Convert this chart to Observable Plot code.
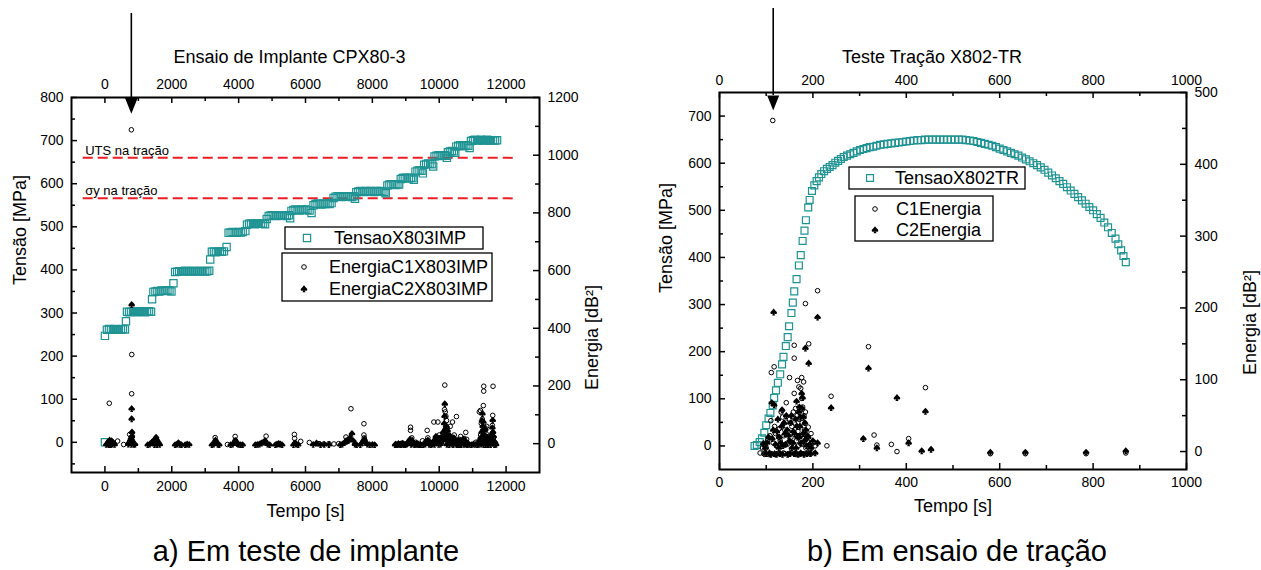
<!DOCTYPE html>
<html><head><meta charset="utf-8">
<script src="https://cdn.jsdelivr.net/npm/d3@7"></script>
<script src="https://cdn.jsdelivr.net/npm/@observablehq/plot@0.6"></script>
<style>
body{margin:0;background:#fff;font-family:"Liberation Sans",Arial,sans-serif;}
#wrap{position:relative;width:1261px;height:570px;overflow:hidden;background:#fff;}
.panel{position:absolute;top:0;}
.cap{position:absolute;font-size:29px;transform:translateX(-50%);white-space:nowrap;line-height:1;color:#000;}
</style></head><body><div id="wrap"></div>
<script>
// ---------------- DATA ----------------
// Panel a: Ensaio de Implante CPX80-3  (t [s], Tensão [MPa])
const titleA = "Ensaio de Implante CPX80-3";
const captionA = "a) Em teste de implante";
const namesA = ["TensaoX803IMP", "EnergiaC1X803IMP", "EnergiaC2X803IMP"];
const tensaoA = [
[0,0],[0,247],
[60,261],[120,263],[180,262],[240,261],[300,263],[360,262],[420,261],[480,262],[540,263],[600,262],[630,281],
[660,303],[720,302],[780,303],[840,304],[900,303],[960,302],[1020,303],[1080,304],[1140,303],[1200,302],[1260,303],[1320,304],[1380,303],[1410,332],
[1450,349],[1510,350],[1570,351],[1630,350],[1690,352],[1750,351],[1810,352],[1870,353],[1930,352],[1990,350],[2050,369],
[2100,395],[2160,396],[2220,397],[2280,396],[2340,397],[2400,398],[2460,397],[2520,396],[2580,397],[2640,398],[2700,397],[2760,396],[2820,397],[2880,398],[2940,397],[3000,396],[3060,397],[3120,398],[3150,424],
[3200,442],[3260,443],[3320,441],[3380,442],[3440,443],[3500,442],[3560,443],[3640,453],
[3700,486],[3760,487],[3820,488],[3880,487],[3940,486],[4000,488],[4060,487],[4120,488],[4200,490],
[4250,505],[4310,507],[4370,508],[4430,507],[4490,506],[4550,508],[4610,507],[4670,508],[4730,507],[4790,506],[4840,518],
[4900,525],[4960,526],[5020,527],[5080,526],[5140,525],[5200,527],[5260,526],[5320,527],[5380,526],[5440,525],[5500,527],[5540,520],
[5580,537],[5640,539],[5700,540],[5760,539],[5820,538],[5880,540],[5940,539],[6000,540],[6060,539],[6120,538],[6180,532],
[6240,550],[6300,553],[6360,554],[6420,553],[6480,552],[6540,554],[6600,553],[6660,554],[6720,553],[6780,555],
[6840,567],[6900,570],[6960,571],[7020,570],[7080,569],[7140,571],[7200,570],[7260,571],[7320,570],[7380,569],[7440,571],[7480,565],
[7520,580],[7580,582],[7640,583],[7700,582],[7760,581],[7820,583],[7880,582],[7940,583],[8000,582],[8060,581],[8120,583],[8180,582],[8240,583],[8300,582],[8360,581],[8400,578],
[8450,596],[8510,598],[8570,599],[8630,598],[8690,597],[8750,599],[8800,598],
[8850,611],[8910,613],[8970,614],[9030,613],[9090,612],[9150,614],[9200,613],[9240,609],
[9290,628],[9350,630],[9410,631],[9470,630],[9510,624],
[9550,644],[9610,646],[9670,647],[9730,646],[9790,645],[9820,640],
[9860,663],[9920,665],[9980,666],[10040,665],[10100,664],[10160,666],[10200,665],[10230,660],
[10260,673],[10320,675],[10380,676],[10440,675],[10480,672],
[10510,686],[10570,688],[10630,689],[10690,688],[10750,687],[10810,689],[10870,688],[10910,683],
[10950,699],[11010,701],[11070,702],[11130,701],[11190,700],[11250,702],[11310,701],[11370,700],[11430,702],[11490,701],[11550,700],[11610,701],[11670,700],[11730,701]
];
// Energy C1 (t [s], Energia [dB²])
const c1A = [
[130,140],[130,2],[200,2],[380,9],[560,-3],[740,32],[760,6],[790,1088],[800,173],[802,309],[820,10],[820,25],
[3298,21],[3300,8],[3320,3],[3665,-3],[3895,25],[3900,12],[3920,5],[4780,5],[4821,26],[5667,32],[5675,18],[5857,8],
[6115,4],[6404,0],[6550,-1],[6700,0],[6850,-1],[6992,0],[7210,23],[7230,12],[7270,8],[7360,121],[7748,69],
[7748,30],[7760,20],[7780,8],[8900,2],[9142,57],[9142,46],[9160,15],[9180,20],[9200,5],[9300,5],[9500,10],[9640,46],[9660,20],
[9700,5],[9840,75],[9900,10],[9960,75],[10000,30],[10050,20],[10100,12],[10130,35],[10167,203],[10160,118],[10180,110],[10200,95],
[10210,45],[10220,80],[10240,55],[10260,35],[10290,10],[10330,60],[10397,75],[10420,5],[10450,30],[10516,94],[10560,8],[10600,15],
[10640,25],[10700,8],[10740,18],[10794,39],[10820,15],[11100,5],[11200,110],[11233,115],[11240,30],[11260,70],[11290,85],[11300,45],
[11320,132],[11332,199],[11332,182],[11350,20],[11370,55],[11400,35],[11420,60],[11450,15],[11480,25],[11500,10],
[11560,15],[11580,35],[11590,63],[11600,98],[11610,199],[11620,20],[11640,5]
];
// Energy C2 (t [s], Energia [dB²])
const c2A = [
[40,-3],[80,2],[110,8],[120,-4],[140,12],[160,6],[170,-4],[190,0],[200,10],[220,-2],[250,3],[290,-3],
[700,-2],[730,5],[760,12],[780,18],[790,-3],[800,25],[800,86],[800,121],[800,482],[810,40],[820,8],[840,2],[870,-3],[900,-2],
[1280,-4],[1340,-2],[1400,4],[1450,10],[1480,-4],[1500,15],[1530,22],[1560,12],[1560,-4],[1600,4],[1640,-3],
[2100,-4],[2160,-2],[2200,3],[2240,-3],[2290,-4],[2400,-4],[2460,-2],[2520,-3],
[3200,-4],[3250,-2],[3280,4],[3310,12],[3340,3],[3380,-3],[3420,-4],
[3760,-4],[3820,-2],[3870,3],[3900,10],[3930,6],[3960,0],[4000,-3],[4060,-4],[4120,-4],
[4500,-4],[4560,-3],[4620,-2],[4680,2],[4740,5],[4790,10],[4820,4],[4870,-2],[4930,-4],
[5100,-4],[5150,-2],[5200,0],[5250,-2],[5300,-4],
[5640,-4],[5690,3],[5720,-2],[5780,-4],
[6230,-3],[6330,2],[6450,-4],[6560,-3],[6700,-4],
[7040,-4],[7100,-2],[7160,3],[7220,8],[7280,12],[7330,20],[7390,35],[7430,10],[7480,-2],[7530,-4],
[7640,-4],[7700,3],[7730,10],[7760,15],[7800,5],[7850,-2],[7920,-4],[8000,-3],[8070,-4],
[8680,-4],[8700,-2],[8740,-4],[8780,0],[8800,-3],[8840,-2],[8860,-4],[8900,0],[8920,-2],[8960,-4],[8980,-3],[9020,-2],[9040,0],
[9060,4],[9100,4],[9120,14],[9140,10],[9160,-3],[9180,6],[9200,8],[9220,2],[9260,-4],[9280,-2],[9320,0],[9340,-3],[9380,-2],[9400,-4],[9450,-4],
[9520,-4],[9580,-2],[9600,8],[9640,5],[9660,12],[9700,-3],[9720,4],[9760,-4],[9780,-1],[9800,2],[9840,10],[9860,-3],[9880,15],
[9900,25],[9920,6],[9940,12],[9960,20],[9980,-3],[10000,8],[10020,18],[10040,-2],[10060,5],
[10080,25],[10100,12],[10120,40],[10140,22],[10150,70],[10160,95],[10167,138],[10180,50],[10190,18],[10200,30],[10210,60],[10220,12],
[10230,-3],[10250,45],[10270,10],[10280,28],[10300,-4],[10320,8],[10340,25],[10360,15],[10380,5],
[10400,-2],[10420,-4],[10440,20],[10460,12],[10480,5],[10500,8],[10520,-3],[10540,-4],[10560,2],[10580,12],[10600,-4],[10620,-2],
[10640,5],[10660,-4],[10680,10],[10700,4],[10720,15],[10740,-3],[10760,6],[10780,10],[10800,-2],[10820,3],
[10840,-4],[10900,-3],[10960,-4],[11020,-2],[11080,-3],[11140,-4],[11180,-3],[11200,10],[11220,5],[11240,20],[11260,-2],[11270,40],
[11280,80],[11292,104],[11300,60],[11310,20],[11320,75],[11330,-4],[11340,30],[11350,45],[11360,15],[11370,8],[11380,50],[11390,-4],
[11400,25],[11410,12],[11420,5],[11440,6],[11450,-3],[11470,-4],[11480,10],[11500,3],[11520,20],[11540,-4],[11560,30],[11580,8],
[11590,55],[11600,81],[11610,40],[11620,10],[11630,25],[11650,-4],[11670,5],[11700,-3]
];
const refLinesA = [{label: "UTS na tração", v: 660}, {label: "σy na tração", v: 566}];
const refSpanA = [-650, 12300];
const arrowA = [790];
const xTicksA = [0, 2000, 4000, 6000, 8000, 10000, 12000];
const xMinorA = [1000, 3000, 5000, 7000, 9000, 11000];
const yTicksA = [0, 100, 200, 300, 400, 500, 600, 700, 800];
const yMinorA = [-50, 50, 150, 250, 350, 450, 550, 650, 750];
const rTicksA = [0, 200, 400, 600, 800, 1000, 1200];
const rMinorA = [100, 300, 500, 700, 900, 1100];

// Panel b: Teste Tração X802-TR
const titleB = "Teste Tração X802-TR";
const captionB = "b) Em ensaio de tração";
const namesB = ["TensaoX802TR", "C1Energia", "C2Energia"];
const tensaoB = [
[75,0],[80,2],[86,8],[91,16],[96,28],[100,44],[105,58],[109,70],[114,86],[117,102],[121,118],[125,134],[130,152],
[134,173],[137,189],[142,212],[146,231],[149,254],[154,282],[157,304],[160,328],[165,354],[170,383],[174,405],
[178,435],[182,457],[185,479],[190,506],[193,522],[198,541],[203,553],[208,562],[213,570],[218,577],[224,583],
[230,588],[236,592],[242,596],[248,601],[254,605],[260,609],[266,613],[273,616],[280,619],[287,622],[294,625],
[301,628],[308,630],[315,632],[322,634],[329,635],[336,637],[344,639],[352,640],[360,641],[368,642],[376,643],
[384,644],[392,645],[400,646],[408,647],[416,648],[424,649],[432,649],[440,650],[448,650],[456,650],[464,650],
[472,650],[480,650],[488,650],[496,650],[504,650],[512,650],[520,650],[528,649],[536,648],[544,647],[552,645],
[560,643],[568,641],[576,639],[584,637],[592,634],[600,631],[608,628],[616,625],[624,622],[632,619],[640,616],
[648,612],[656,608],[664,604],[672,600],[680,596],[688,591],[696,586],[704,580],[712,574],[720,568],[728,562],
[736,556],[744,549],[752,542],[760,535],[768,528],[776,521],[784,514],[792,507],[800,500],[808,492],[816,484],
[824,474],[832,464],[840,452],[848,440],[854,428],[860,415],[865,403],[870,390]
];
const c1B = [
[114,461],[210,224],[184,206],[160,148],[191,150],[117,118],[111,110],[160,130],[150,103],[176,103],[180,97],
[167,99],[319,146],[239,77],[441,89],[331,23],[337,9],[368,10],[380,0],[405,18],[230,8],[143,68],[160,81],
[176,74],[184,55],[190,34],[194,4],[110,43],[128,32],[142,41],[153,20],[87,-2],[95,-3],[100,5],[105,-4],
[115,12],[120,25],[125,-3],[130,15],[135,48],[138,22],[145,10],[148,-4],[155,35],[158,55],[163,60],[165,15],
[168,28],[170,45],[172,-4],[175,10],[178,62],[182,30],[186,18],[188,-2],[196,25],[200,12],[118,-4],[140,-3],
[162,-4],[580,-3],[655,-3],[785,-3],[870,-2],
[92,5],[97,-4],[103,15],[108,22],[112,-3],[118,35],[122,8],[127,20],[132,55],[137,-2],[140,30],[147,28],
[150,45],[152,-2],[156,12],[160,40],[164,-3],[166,50],[169,8],[173,22],[177,40],[179,-3],[181,50],[185,5],
[189,14],[192,-3],[198,-2],[205,8],[170,90],[174,88]
];
const c2B = [
[116,194],[210,187],[184,144],[191,123],[319,116],[134,58],[112,68],[117,65],[239,61],[380,75],[441,56],
[308,18],[337,5],[405,12],[433,1],[453,3],[580,-1],[655,-1],[785,-1],[870,1],[176,81],[171,62],[210,12],
[196,5],[94,11],[100,-3],[105,20],[110,-4],[115,30],[120,10],[122,-4],[125,45],[128,20],[130,-3],[133,35],
[136,8],[140,25],[143,50],[146,-4],[150,15],[152,40],[155,5],[158,28],[160,-3],[163,45],[165,70],[167,20],
[170,55],[172,35],[174,-2],[178,75],[180,48],[182,15],[185,30],[187,-3],[190,20],[193,10],[200,15],
[98,5],[102,12],[107,-2],[113,18],[118,-3],[123,28],[127,5],[131,12],[135,-4],[138,40],[141,10],[145,30],
[148,22],[151,-3],[154,50],[157,12],[161,25],[164,5],[166,35],[168,-4],[171,20],[173,48],[175,12],[177,60],
[179,25],[181,-4],[183,40],[186,8],[188,22],[195,-3],[205,-2]
];
const arrowB = [115];
const xTicksB = [0, 200, 400, 600, 800, 1000];
const xMinorB = [100, 300, 500, 700, 900];
const yTicksB = [0, 100, 200, 300, 400, 500, 600, 700];
const yMinorB = [50, 150, 250, 350, 450, 550, 650];
const rTicksB = [0, 100, 200, 300, 400, 500];
const rMinorB = [50, 150, 250, 350, 450];

// ---------------- STYLE / HELPERS ----------------
const FONT = "Liberation Sans, Arial, Helvetica, sans-serif";
const TEAL = "#1f9393";
const RED = "#ee1c25";

const spadePts = [[0,-1.1],[0.5,-0.55],[0.95,-0.05],[1.0,0.3],[0.8,0.55],[0.45,0.55],[0.2,0.35],[0.45,1.0],
  [-0.45,1.0],[-0.2,0.35],[-0.45,0.55],[-0.8,0.55],[-1.0,0.3],[-0.95,-0.05],[-0.5,-0.55]];
const spade = {draw(ctx, size) {
  const r = Math.sqrt(size / Math.PI);
  spadePts.forEach(([px, py], i) => i ? ctx.lineTo(px * r, py * r) : ctx.moveTo(px * r, py * r));
  ctx.closePath();
}};
const arrowHead = {draw(ctx, size) {
  const r = Math.sqrt(size / Math.PI);
  ctx.moveTo(-0.8 * r, -r);
  ctx.lineTo(0.8 * r, -r);
  ctx.lineTo(0, r);
  ctx.closePath();
}};

function legendMark(boxes) {
  return function () {
    const g = d3.create("svg:g").attr("font-family", FONT).attr("font-size", 18).attr("text-anchor", "start");
    for (const b of boxes) {
      g.append("rect").attr("x", b.x).attr("y", b.y).attr("width", b.w).attr("height", b.h)
        .attr("fill", "white").attr("stroke", "black").attr("stroke-width", 1.3);
      for (const it of b.items) {
        g.append("path").attr("transform", `translate(${it.sx},${it.sy})`)
          .attr("d", d3.symbol(it.symbol, Math.PI * it.r * it.r)())
          .attr("fill", it.fill).attr("stroke", it.stroke).attr("stroke-width", it.sw || 1);
        g.append("text").attr("x", it.tx).attr("y", it.sy).attr("dy", "0.35em")
          .attr("text-anchor", "start").attr("fill", "black").text(it.label);
      }
    }
    return g.node();
  };
}

function panel(cfg) {
  const plotW = cfg.width - cfg.marginLeft - cfg.marginRight;
  const plotH = cfg.height - cfg.marginTop - cfg.marginBottom;
  const [l0, l1] = cfg.yDomain, [r0, r1] = cfg.rDomain;
  const toL = (e) => l0 + (e - r0) * (l1 - l0) / (r1 - r0);
  const fromL = (v) => r0 + (v - l0) * (r1 - r0) / (l1 - l0);
  const major = 6, minor = 4, tsw = 1.5;
  return Plot.plot({
    width: cfg.width, height: cfg.height,
    marginLeft: cfg.marginLeft, marginRight: cfg.marginRight,
    marginTop: cfg.marginTop, marginBottom: cfg.marginBottom,
    style: {fontFamily: FONT, fontSize: "14px", color: "black", background: "transparent", overflow: "visible"},
    x: {domain: cfg.xDomain},
    y: {domain: cfg.yDomain},
    marks: [
      ...(cfg.refLines ? [
        Plot.ruleY(cfg.refLines, {y: "v", x1: cfg.refSpan[0], x2: cfg.refSpan[1], stroke: RED, strokeWidth: 2, strokeDasharray: "10,5"}),
        Plot.text(cfg.refLines, {x: cfg.refSpan[0] + 60, y: "v", text: "label", textAnchor: "start", lineAnchor: "bottom", dy: -3, fontSize: 13})
      ] : []),
      Plot.dot(cfg.tensao, {x: (d) => d[0], y: (d) => d[1], symbol: "square", r: cfg.sqR, stroke: TEAL, strokeWidth: 1.2, fill: "none"}),
      Plot.dot(cfg.c1, {x: (d) => d[0], y: (d) => toL(d[1]), symbol: "circle", r: 2.3, stroke: "black", strokeWidth: 1, fill: "none"}),
      Plot.dot(cfg.c2, {x: (d) => d[0], y: (d) => toL(d[1]), symbol: spade, r: 3.3, fill: "black", stroke: "none"}),
      Plot.frame({stroke: "black", strokeWidth: 2}),
      // inward ticks
      Plot.tickX(cfg.xTicks, {x: (d) => d, insetTop: plotH - major, strokeWidth: tsw}),
      Plot.tickX(cfg.xMinor, {x: (d) => d, insetTop: plotH - minor, strokeWidth: tsw}),
      Plot.tickX(cfg.xTicks, {x: (d) => d, insetBottom: plotH - major, strokeWidth: tsw}),
      Plot.tickX(cfg.xMinor, {x: (d) => d, insetBottom: plotH - minor, strokeWidth: tsw}),
      Plot.tickY(cfg.yTicks, {y: (d) => d, insetRight: plotW - major, strokeWidth: tsw}),
      Plot.tickY(cfg.yMinor, {y: (d) => d, insetRight: plotW - minor, strokeWidth: tsw}),
      Plot.tickY(cfg.rTicks.map(toL), {y: (d) => d, insetLeft: plotW - major, strokeWidth: tsw}),
      Plot.tickY(cfg.rMinor.map(toL), {y: (d) => d, insetLeft: plotW - minor, strokeWidth: tsw}),
      // tick labels
      Plot.axisX({anchor: "bottom", ticks: cfg.xTicks, tickSize: 0, tickPadding: cfg.xPad, tickFormat: (d) => String(d), label: null, fontSize: 14}),
      Plot.axisX({anchor: "top", ticks: cfg.xTicks, tickSize: 0, tickPadding: cfg.xPad, tickFormat: (d) => String(d), label: null, fontSize: 14}),
      Plot.axisY({anchor: "left", ticks: cfg.yTicks, tickSize: 0, tickPadding: 8, tickFormat: (d) => String(d), label: null, fontSize: 14}),
      Plot.axisY({anchor: "right", ticks: cfg.rTicks.map(toL), tickSize: 0, tickPadding: 8, tickFormat: (d) => String(Math.round(fromL(d))), label: null, fontSize: 14}),
      // axis titles and title
      Plot.text(["Tempo [s]"], {text: (d) => d, frameAnchor: "bottom", dy: cfg.xLabelDy, fontSize: 18}),
      Plot.text(["Tensão [MPa]"], {text: (d) => d, frameAnchor: "left", dx: cfg.yLabelDx, dy: cfg.yLabelDy, rotate: -90, fontSize: 18}),
      Plot.text(["Energia [dB²]"], {text: (d) => d, frameAnchor: "right", dx: cfg.rLabelDx, dy: cfg.rLabelDy, rotate: -90, fontSize: 18}),
      Plot.text([cfg.title], {text: (d) => d, frameAnchor: "top", dx: cfg.titleDx, dy: cfg.titleDy, fontSize: 18}),
      // arrow
      Plot.ruleX(cfg.arrow, {x: (d) => d, insetTop: cfg.arrowInsetTop, insetBottom: plotH - cfg.arrowBelow, strokeWidth: 1.6}),
      Plot.dot(cfg.arrow, {x: (d) => d, frameAnchor: "top", dy: cfg.headDy, symbol: arrowHead, r: cfg.headR, fill: "black", stroke: "none"}),
      legendMark(cfg.legend)
    ]
  });
}

const sqA = 4.1, sqB = 3.9;
const svgA = panel({
  width: 620, height: 530, marginLeft: 71, marginRight: 81, marginTop: 97, marginBottom: 58,
  xDomain: [-1000, 13000], yDomain: [-70, 800], rDomain: [-100, 1200],
  tensao: tensaoA, c1: c1A, c2: c2A, sqR: sqA,
  refLines: refLinesA, refSpan: refSpanA,
  xTicks: xTicksA, xMinor: xMinorA, yTicks: yTicksA, yMinor: yMinorA, rTicks: rTicksA, rMinor: rMinorA,
  xPad: 9, xLabelDy: 44, yLabelDx: -51, yLabelDy: 0, rLabelDx: 53, rLabelDy: 0,
  title: titleA, titleDx: -16, titleDy: -47,
  arrow: arrowA, arrowInsetTop: -84, arrowBelow: 0, headDy: 8, headR: 8.3,
  legend: [
    {x: 285, y: 227, w: 198, h: 22, items: [
      {symbol: d3.symbolSquare, r: sqA, fill: "none", stroke: TEAL, sw: 1.2, sx: 307, sy: 238, tx: 334, label: namesA[0]}]},
    {x: 282, y: 253, w: 210, h: 48, items: [
      {symbol: d3.symbolCircle, r: 2.3, fill: "none", stroke: "black", sx: 304, sy: 267, tx: 329, label: namesA[1]},
      {symbol: spade, r: 3.3, fill: "black", stroke: "none", sx: 304, sy: 289, tx: 329, label: namesA[2]}]}
  ]
});
const svgB = panel({
  width: 641, height: 530, marginLeft: 99, marginRight: 75, marginTop: 92, marginBottom: 61,
  xDomain: [0, 1000], yDomain: [-50, 750], rDomain: [-25, 500],
  tensao: tensaoB, c1: c1B, c2: c2B, sqR: sqB,
  refLines: null,
  xTicks: xTicksB, xMinor: xMinorB, yTicks: yTicksB, yMinor: yMinorB, rTicks: rTicksB, rMinor: rMinorB,
  xPad: 8, xLabelDy: 42, yLabelDx: -53, yLabelDy: 12, rLabelDx: 64, rLabelDy: -11,
  title: titleB, titleDx: -21, titleDy: -42,
  arrow: arrowB, arrowInsetTop: -84, arrowBelow: 3, headDy: 10.5, headR: 7.5,
  legend: [
    {x: 229, y: 167, w: 176, h: 22, items: [
      {symbol: d3.symbolSquare, r: sqB, fill: "none", stroke: TEAL, sw: 1.2, sx: 250, sy: 178, tx: 275, label: namesB[0]}]},
    {x: 235, y: 196, w: 138, h: 45, items: [
      {symbol: d3.symbolCircle, r: 2.3, fill: "none", stroke: "black", sx: 255, sy: 209, tx: 276, label: namesB[1]},
      {symbol: spade, r: 3.3, fill: "black", stroke: "none", sx: 255, sy: 230, tx: 276, label: namesB[2]}]}
  ]
});

const wrap = document.getElementById("wrap");
svgA.classList.add("panel"); svgA.style.left = "0px";
svgB.classList.add("panel"); svgB.style.left = "620px";
wrap.appendChild(svgA);
wrap.appendChild(svgB);
for (const [txt, cx] of [[captionA, 306], [captionB, 957]]) {
  const d = document.createElement("div");
  d.className = "cap"; d.textContent = txt;
  d.style.left = cx + "px"; d.style.top = "537px";
  wrap.appendChild(d);
}
</script></body></html>
